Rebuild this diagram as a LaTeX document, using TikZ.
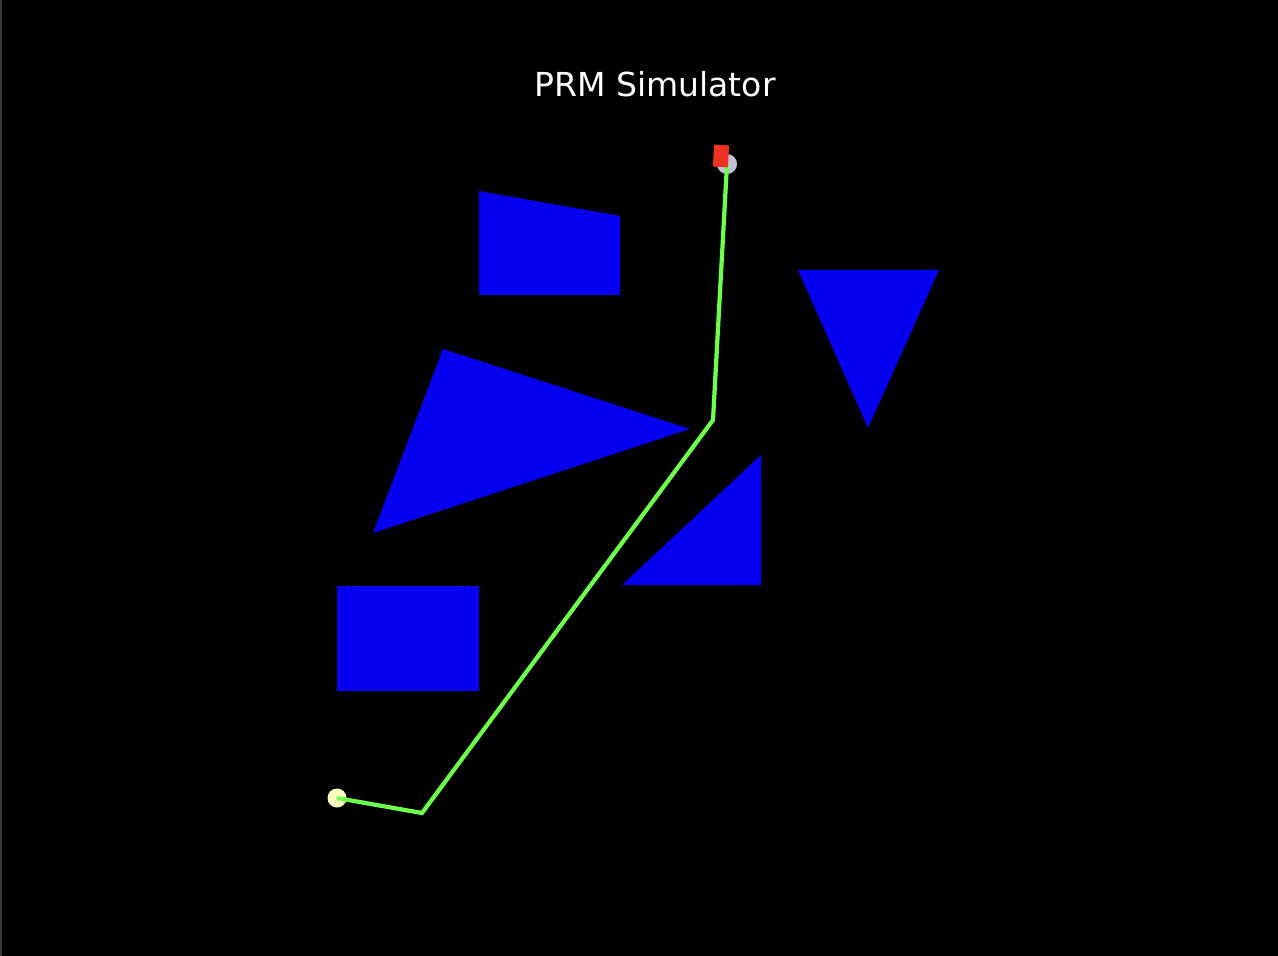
\documentclass[tikz,border=0pt]{standalone}
\usepackage{fontspec}
\setmainfont{DejaVu Sans}
\usetikzlibrary{positioning}
\definecolor{obstacle}{HTML}{0500F0}
\definecolor{pathgreen}{HTML}{6CFF4C}
\definecolor{goalred}{HTML}{EE3322}
\definecolor{startlav}{HTML}{C4C0DC}
\definecolor{endyellow}{HTML}{FFFFC0}
\definecolor{edgegray}{HTML}{3A3A3A}
\tikzset{
  obst/.style={fill=obstacle, draw=none},
  route/.style={draw=pathgreen, line width=2.4pt, line join=miter},
  marker/.style={circle, draw=none, inner sep=0pt, minimum size=#1}
}
\begin{document}
\begin{tikzpicture}[x=0.02cm, y=-0.02cm]
  \fill[black] (0,0) rectangle (1278,956);
  \fill[edgegray] (0,0) rectangle (2,956);
  \useasboundingbox (0,0) rectangle (1278,956);

  % title
  \node[text=white, font=\fontsize{18.8}{22}\selectfont] (title) at (655,84) {PRM Simulator};

  % obstacles
  \fill[obst] (479,191) -- (620,216) -- (620,295) -- (479,295) -- cycle;
  \fill[obst] (443,349) -- (690,429) -- (373,533) -- cycle;
  \fill[obst] (798,270) -- (939,270) -- (868,428) -- cycle;
  \fill[obst] (761,455) -- (761,585) -- (622,585) -- cycle;
  \fill[obst] (337,586) rectangle (479,691);

  % start and goal
  \node[marker=20*0.02cm, fill=startlav] (start) at (727,164) {};
  \node[marker=19*0.02cm, fill=endyellow] (goal) at (337,798) {};

  % roadmap path
  \coordinate (w1) at (422,813);
  \coordinate (w2) at (713,420);
  \draw[route] (goal.center) -- (w1) -- (w2) -- (start.center);

  % robot
  \node[fill=goalred, inner sep=0pt, minimum width=15*0.02cm, minimum height=22*0.02cm, rotate=-3] (robot) at (721,156) {};
\end{tikzpicture}
\end{document}
